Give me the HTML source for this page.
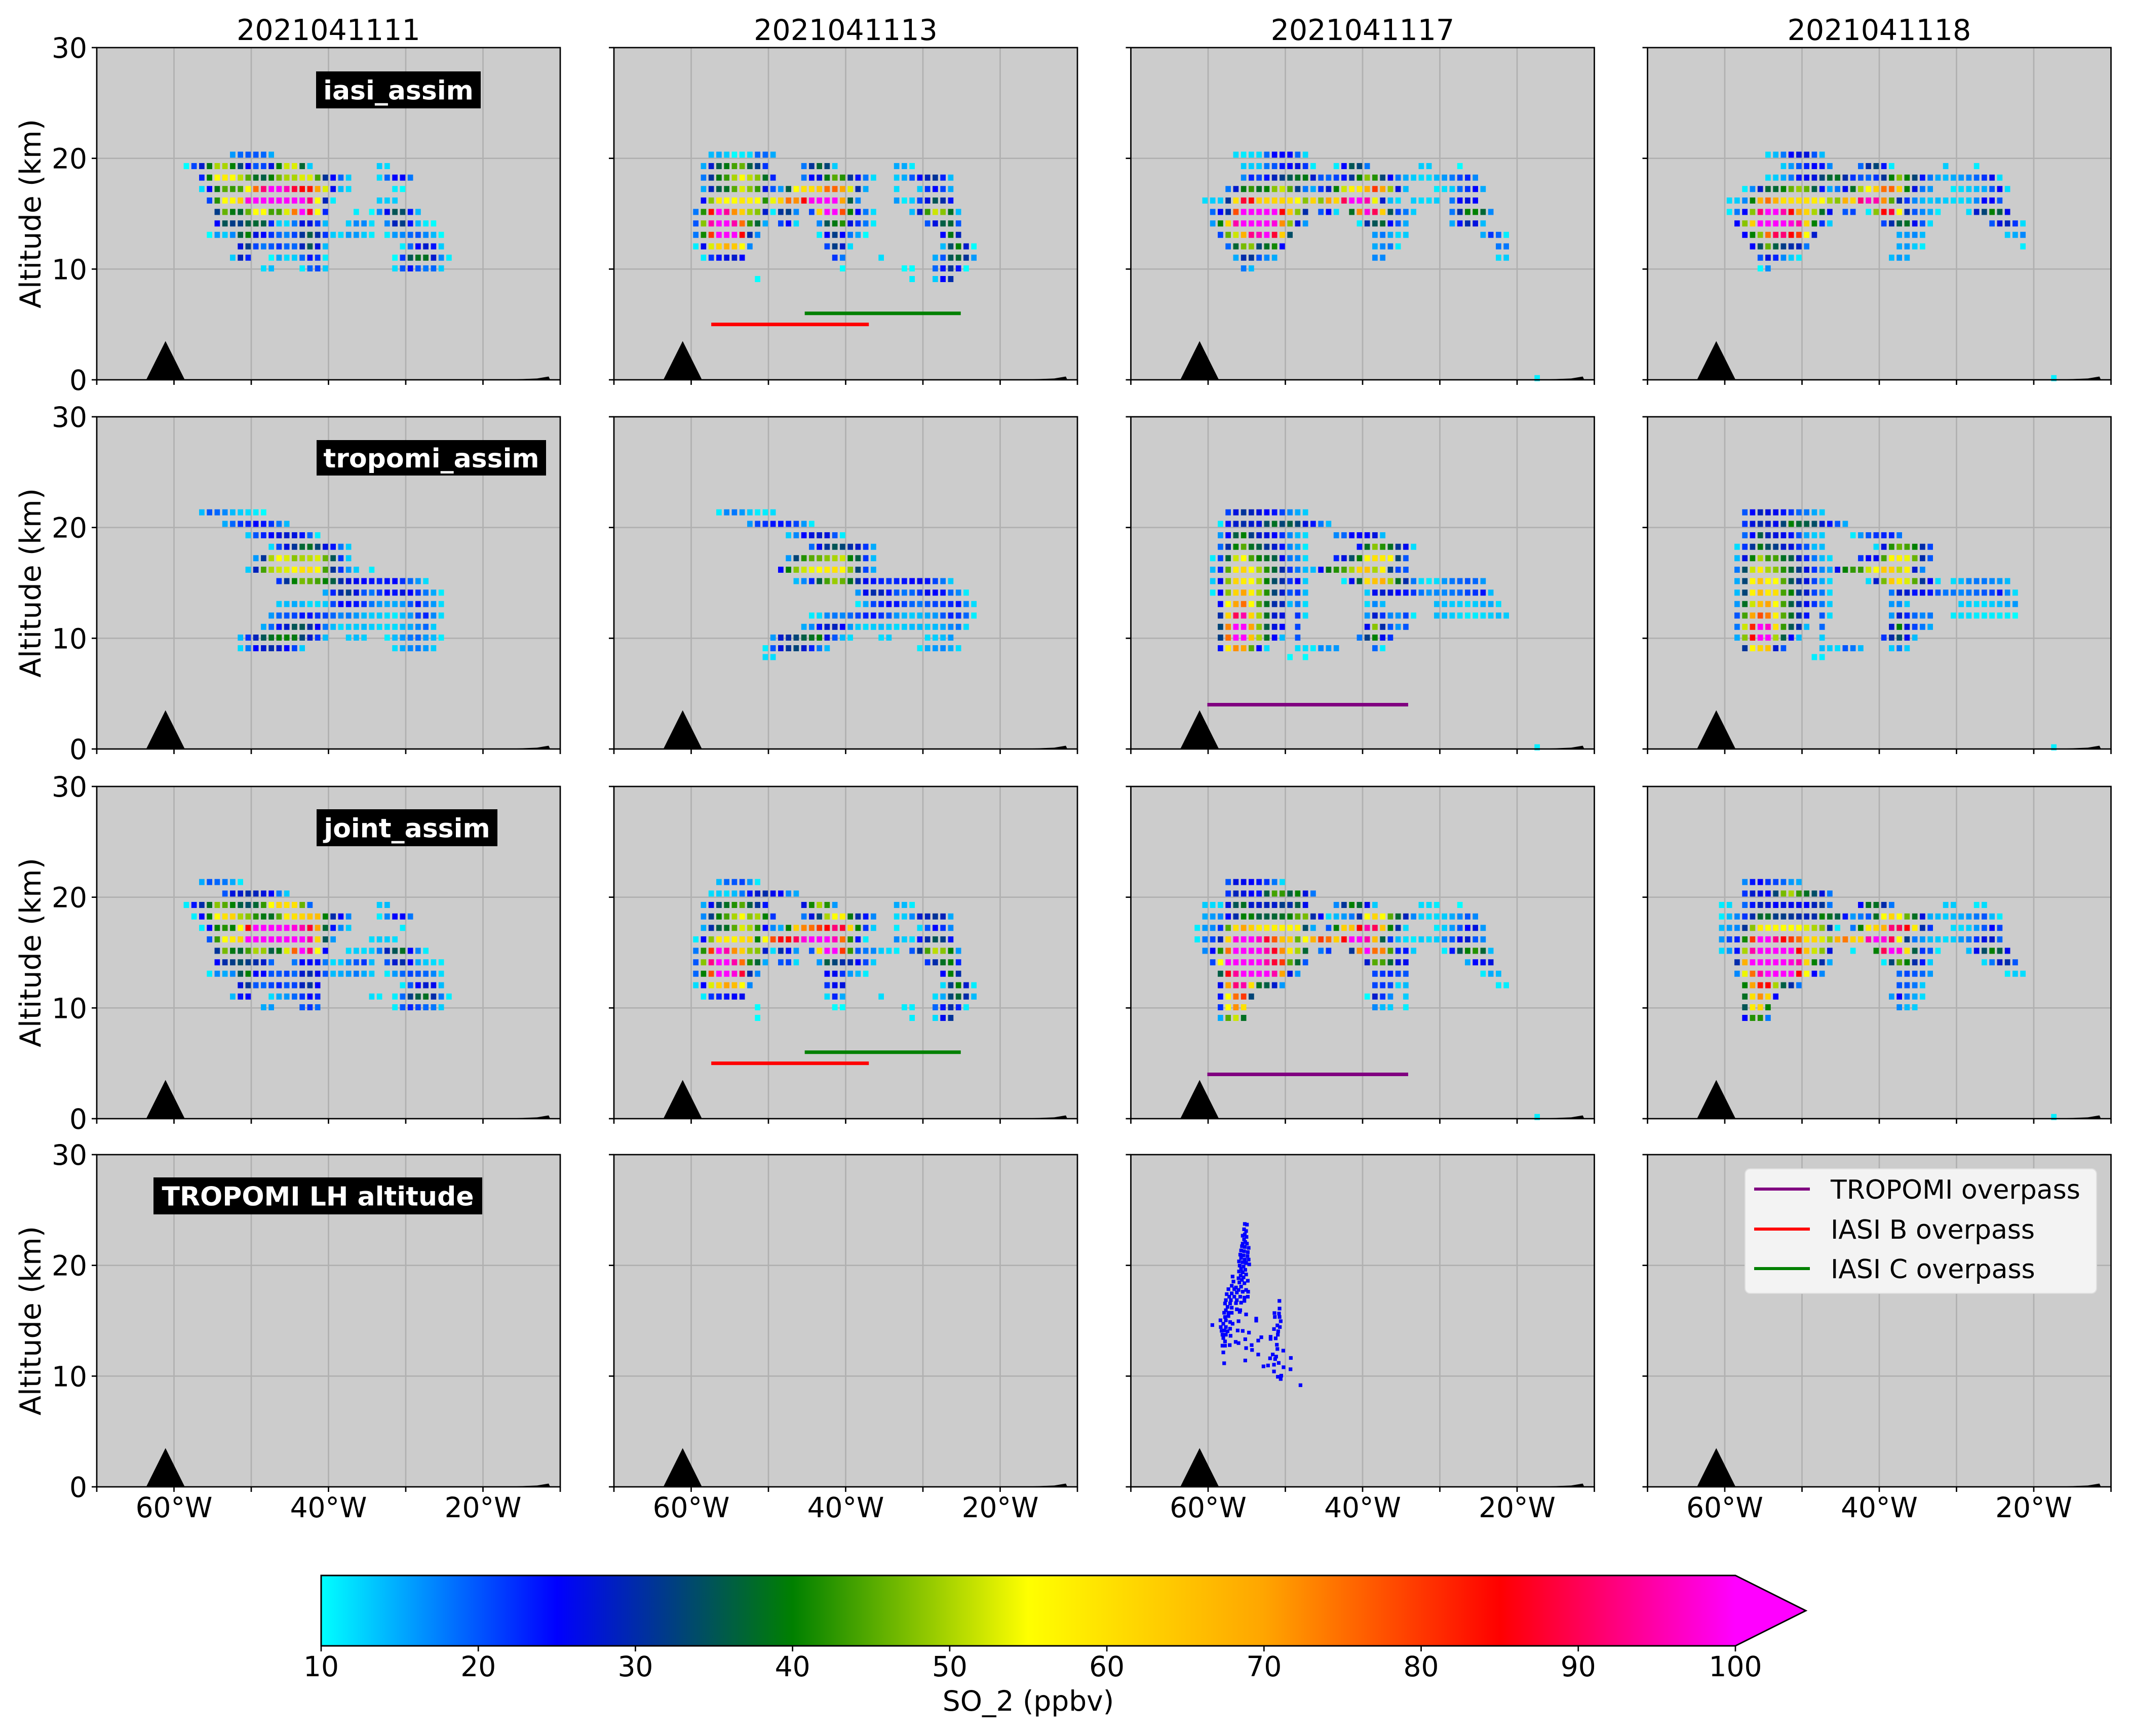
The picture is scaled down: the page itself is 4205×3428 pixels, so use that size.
<!DOCTYPE html>
<html><head><meta charset="utf-8"><title>SO2 cross sections</title>
<style>
html,body{margin:0;padding:0;background:#fff;}
svg{display:block;}
text{font-family:"DejaVu Sans","Liberation Sans",sans-serif;fill:#000;}
</style></head>
<body>
<svg id="fig" xmlns="http://www.w3.org/2000/svg" width="4205" height="3428" viewBox="0 0 4205 3428">
<defs>
<linearGradient id="cbgrad" x1="0" x2="1" y1="0" y2="0">
<stop offset="0" stop-color="#00ffff"/>
<stop offset="0.1667" stop-color="#0000ff"/>
<stop offset="0.3333" stop-color="#008000"/>
<stop offset="0.5" stop-color="#ffff00"/>
<stop offset="0.6667" stop-color="#ffa500"/>
<stop offset="0.8333" stop-color="#ff0000"/>
<stop offset="1" stop-color="#ff00ff"/>
</linearGradient>
</defs>
<rect x="0" y="0" width="4205" height="3428" fill="#ffffff"/>
<g id="panels"></g>
<g id="colorbar">
<rect x="634" y="3111" width="2792" height="139" fill="url(#cbgrad)"/>
<polygon points="3425,3111 3565,3180.5 3425,3250" fill="#ff00ff"/>
<polygon points="634,3111 3426,3111 3565,3180.5 3426,3250 634,3250" fill="none" stroke="#000" stroke-width="3"/>
<g id="cbticks"></g>
<text x="2030" y="3378" font-size="55" text-anchor="middle">SO_2 (ppbv)</text>
</g>
<g id="legend">
<rect x="3445" y="2308" width="694" height="246" rx="10" ry="10" fill="#f3f3f3" stroke="#dedede" stroke-width="2"/>
<line x1="3463" x2="3573" y1="2348" y2="2348" stroke="#800080" stroke-width="6"/>
<text x="3614" y="2367" font-size="52">TROPOMI overpass</text>
<line x1="3463" x2="3573" y1="2427" y2="2427" stroke="#ff0000" stroke-width="6"/>
<text x="3614" y="2446" font-size="52">IASI B overpass</text>
<line x1="3463" x2="3573" y1="2505" y2="2505" stroke="#008000" stroke-width="6"/>
<text x="3614" y="2524" font-size="52">IASI C overpass</text>
</g>
</svg>
<script>
// ---------- data ----------
const colTitles = ['2021041111','2021041113','2021041117','2021041118'];
const rowLabels = ['iasi_assim','tropomi_assim','joint_assim','TROPOMI LH altitude'];
const yTicks = [0,10,20,30];
const xTicks = [-70,-60,-50,-40,-30,-20,-10];
const xTickLabelVals = [-60,-40,-20];
const xTickLabelText = ['60°W','40°W','20°W'];
const cbTicks = [10,20,30,40,50,60,70,80,90,100];
const levels = [21.37,20.33,19.30,18.26,17.23,16.19,15.16,14.12,13.09,12.05,11.03,10.06,9.10,8.3,0.15];
const lonStart = -58.4;
const lonStep = 1.0;
const cells_r1c1 = [
[1,6,[16,19,20,20,19,15]],
[2,0,[10,21,28,39,50,50,40,33,25,20,21,27,40,52,53,37,13]],[2,25,[13,12]],
[3,2,[23,40,55,58,55,51,45,38,36,40,47,50,50,53,53,44,31,25,19,13]],[3,25,[12,19,25,25,18]],
[4,2,[12,25,39,45,43,44,55,75,92,100,100,96,88,85,83,70,53,26,14,12]],[4,27,[11,10]],
[5,3,[21,42,55,56,63,98,100,100,100,100,100,100,100,92,55,29,11]],[5,25,[13,13,13]],
[6,4,[32,46,39,37,46,55,55,44,44,53,74,100,88,55,23]],[6,22,[11]],[6,24,[10,17,26,35,34,24,14]],
[7,4,[25,35,32,32,36,37,36,23,13,12,18,27,27,22,14]],[7,21,[13,17,17,12]],[7,26,[17,29,32,24,14,11,10]],
[8,3,[10,16,13,17,36,40,27,25,22,19,17,21,31,36,30,22,13,12,16,16,13,11]],[8,26,[11,16,17,19,20,17,14,10]],
[9,7,[27,32,21,18,20,22,19,19,29,35,27,14]],[9,28,[11,19,25,28,24,13]],
[10,6,[13,29,23]],[10,11,[10,15,12,13,19,24,22,11]],[10,27,[10,22,35,38,38,28,17,11]],
[11,10,[12,14]],[11,15,[11,19,21,13]],[11,27,[12,20,24,20,18,19,13]]
];
const cells_r1c2 = [
[1,1,[14,15,13,10,11,12,19,19,15]],
[2,0,[15,28,36,39,44,46,36,32,22]],[2,13,[18,31,37,33,13]],[2,25,[15,15,11]],
[3,0,[18,31,39,43,50,55,51,48,38,23]],[3,13,[18,25,27,39,45,42,31,24,18,12]],[3,25,[13,15,20,25,29,31,23,14]],
[4,0,[15,29,36,38,45,53,48,43,27,20,16,36,55,60,60,64,75,76,70,53,30,15]],[4,25,[12]],[4,28,[13,22,25,21,15]],
[5,0,[25,48,58,55,55,59,57,55,42,54,63,75,72,85,99,100,100,100,70,36,17]],[5,25,[16,11,13,21,27,35,30,24]],
[6,-1,[18,42,84,100,94,72,63,50,48,28,11,31,32,17]],[6,14,[21,62,100,100,78,40,25,18,12]],[6,27,[14,28,43,52,48,38,14]],
[7,-1,[20,48,95,100,100,95,75,43,37,15]],[7,10,[21,25,12]],[7,15,[17,35,39,42,27,22,18,11]],[7,29,[20,27,36,37,20]],
[8,-1,[18,41,80,100,100,100,85,30,17]],[8,15,[11,25,32,25,18,15,10]],[8,31,[25,39,29]],
[9,-1,[11,26,53,62,68,64,55,17]],[9,16,[21,32,28,12]],[9,31,[14,34,40,28,10]],
[10,0,[11,22,24,27,28,25]],[10,17,[22,18]],[10,23,[12]],[10,30,[15,20,35,37,31,16]],
[11,18,[10]],[11,26,[10,10]],[11,30,[19,24,31,24,10]],
[12,7,[10]],[12,27,[11]],[12,30,[13,25,30]]
];
const cells_r1c3 = [
[1,2,[12,11,12,12,19,25,25,25,19,12]],
[2,3,[13,13,13,18,20,24,25,27,22,11]],[2,15,[11,25,35,33,18]],[2,26,[13,13]],[2,31,[10]],
[3,3,[17,23,21,24,29,32,35,38,39,28,20,19,21,24,31,40,48,42,33,25,18,15,13,12,12,14,16,18,21,23,17]],
[4,1,[18,28,39,43,38,40,48,52,45,32,18,15,22,28,40,52,57,58,68,80,70,49,27,14]],[4,28,[11,12,13,19,22,25,15]],
[5,-2,[12,13,13,31,60,88,84,63,62,62,62,60,55,48,62,48,70,62,90,100,100,95,54,28,14,12]],[5,25,[13,12,12,13]],[5,30,[18,25,27,25]],
[6,-1,[19,25,30,78,100,100,100,100,100,85,65,48,30]],[6,13,[20,25,12]],[6,17,[38,72,98,90,63,35,21,18,13]],[6,30,[18,30,40,40,37,17]],
[7,-1,[16,40,62,95,100,100,100,100,98,72,48,27,16]],[7,18,[11,30,35,37,25,20,15]],[7,30,[15,24,30,27,14]],
[8,0,[21,46,52,68,93,96,100,88,63,34]],[8,20,[16,18,15,12,13]],[8,34,[15,22,19,11]],
[9,1,[19,37,47,48,33,38,41,25]],[9,20,[15,17,18,11]],[9,36,[18,18]],
[10,2,[15,30,31,20,17,15]],[10,20,[17,17]],[10,36,[12,13]],
[11,3,[18,14]],
[14,41,[11]]
];
const cells_r1c4 = [
[1,4,[12,14,18,25,27,27,20,14]],
[2,6,[13,16,20,23,25,24,17]],[2,16,[19,30,33,24,11]],[2,27,[13]],[2,31,[11]],
[3,4,[12,13,15,18,24,26,27,33,37,38,30,22,20,19,22,31,40,48,40,33,24,18,15,14,15,16,17,19,22,26,12]],
[4,1,[11,17,28,37,37,40,46,49,46,36,24,15,18,26,38,50,55,63,75,76,63,40,27,18,16]],[4,28,[11,12,13,14,15,20,25,12]],
[5,-1,[12,13,17,40,68,75,68,60,60,60,60,58,55,50,48,68,62,92,97,95,72,45,30,22,17,14]],[5,25,[13,14,13,12,12,13,17,25,25,20]],
[6,-1,[11,18,25,48,92,100,100,95,85,70,62,50,38,26]],[6,14,[20,21]],[6,17,[11,48,85,88,55,30,20,17,15,11]],[6,30,[12,28,33,40,36,26]],
[7,0,[25,48,63,100,100,100,100,98,95,62,40,22,13]],[7,19,[21,30,36,38,26,20,12]],[7,33,[20,27,29,22,12]],
[8,1,[25,40,48,75,90,92,85,80,55,28]],[8,21,[15,16,17,14]],[8,35,[13,15,17]],
[9,2,[25,34,46,36,32,30,29,18]],[9,21,[15,16,13,11]],[9,37,[11]],
[10,3,[20,27,23,17,13,11]],[10,20,[14,16,15]],
[11,3,[10,17]],
[14,41,[11]]
];
const cells_r2c1 = [
[0,2,[14,20,19,17,14,13,12,11,10]],
[1,5,[15,19,22,23,25,24,22,18,14]],
[2,8,[13,20,23,25,27,28,27,24,19,11]],
[3,11,[12,21,27,31,37,38,33,27,24,18,13]],
[4,9,[16,31,50,55,53,48,50,51,53,46,35,22,13]],
[5,8,[13,29,44,50,52,53,56,60,60,56,44,31,22,16,13]],[5,24,[11]],
[6,12,[22,31,40,47,46,44,40,36,30,27,26,25,24,23,24,25,22,19,16,12]],
[7,18,[15,23,30,32,27,20,18,22,25,24,27,25,22,18,15,11]],
[8,12,[13,14,15,14,12,12,13,21,25,25,24,22,18,16,15,15,16,20,24,19,16,12]],
[9,11,[16,19,20,21,24,24,22,21,19,17,18,16,14,13,13,12,11,14,16,21,23,17,12]],
[10,10,[15,19,24,28,35,35,30,25,18,14,12,13,13,14,13,12,12,12,14,15,17,19,13]],
[11,7,[14,22,29,35,38,40,40,39,33,28,22,14]],[11,21,[13,14,13]],[11,26,[11,14,16,18,19,16,14,11]],
[12,7,[12,18,25,28,30,28,25,21,13]],[12,27,[12,15,17,18,16,13]]
];
const cells_r2c2 = [
[0,2,[11,17,18,16,13,11,11,12]],
[1,6,[16,21,22,24,24,23,21,16,11]],
[2,11,[13,17,25,27,28,27,20,11]],
[3,14,[19,26,31,35,33,30,28,22,15]],
[4,11,[16,33,42,45,46,48,50,52,40,36,22,14]],
[5,10,[25,40,48,52,54,55,58,60,56,48,33,21,15]],
[6,12,[14,17,23,36,44,49,46,38,30,26,24,23,22,23,24,25,26,24,21,18,13]],
[7,20,[16,26,30,29,24,20,18,19,22,26,25,24,19,17,11]],
[8,20,[11,15,21,23,25,24,21,19,18,20,21,22,23,24,17,12]],
[9,14,[11,12,17,18,17,19,21,23,24,22,20,16,14,13,14,15,16,20,23,22,19,11]],
[10,13,[15,17,24,28,29,25,16,13,12,13,14,13,12,13,14,14,13,14,15,17,18,12]],
[11,9,[16,28,30,33,36,38,40,27,20,14,12]],[11,23,[12,13]],[11,29,[12,13,14,16]],
[12,8,[11,20,27,31,33,28,23,18,14]],[12,28,[11,15,16,17,15,12]],
[13,8,[12,12]]
];
const cells_r2c3 = [
[0,1,[21,27,31,29,27,25,24,21,17,15,13]],
[1,0,[11,24,28,30,28,27,34,38,33,36,33,27,24,18,14]],
[2,0,[16,25,36,40,32,28,27,25,22,17,14,12]],[2,15,[17,19,25,25,25,27,14]],
[3,0,[19,30,40,45,38,36,31,28,24,17,15,11]],[3,18,[24,38,48,42,38,31,26,12]],
[4,-1,[11,21,37,52,55,44,40,38,36,26,18,17,12]],[4,15,[23,27,34,40,56,60,58,56,33,20]],
[5,-1,[14,23,45,58,62,55,50,42,37,30,22,18,14,14,25,39,42,44,50,62,65,50,57,32,21,20]],
[6,-1,[13,26,48,62,58,55,50,40,34,30,22,25,13]],[6,16,[11,26,37,60,65,68,50,38,30,18,12,11,12,16,18,19,20,19,16]],
[7,-1,[11,25,48,62,70,57,50,42,33,28,20,22,14]],[7,19,[13,26,28,27,25,24,22,18,16,17,17,18,19,21,22,24,14]],
[8,0,[25,55,70,75,55,45,38,30,29,14,18,12]],[8,19,[12,17,14]],[8,28,[14,14,13,13,12,13,15,15,12]],
[9,0,[30,62,90,95,62,50,38,28,27]],[9,10,[22,12]],[9,19,[16,28,22,17,16,21,11]],[9,28,[14,14,13,12,11,11,12,13,14,13]],
[10,0,[33,73,100,100,70,48,36,27,25]],[10,10,[21]],[10,19,[26,48,30,20,16,20]],
[11,0,[32,75,100,100,65,50,38,25,14]],[11,10,[20]],[11,18,[18,32,40,26,22]],
[12,0,[24,58,72,70,45,25,12]],[12,10,[12,12,11,17,16,16]],[12,20,[19,11]],
[13,9,[10]],[13,11,[10]],
[14,41,[11]]
];
const cells_r2c4 = [
[0,1,[20,25,29,27,26,24,22,19,18,15,13]],
[1,1,[22,27,30,28,26,33,40,37,36,34,28,24,20,15]],
[2,1,[19,25,36,29,27,26,24,20,15,13,13]],[2,15,[11,16,20,22,23,23,18]],
[3,0,[12,22,31,39,34,32,28,27,22,20,14,14]],[3,18,[12,27,42,46,44,40,30,21]],
[4,0,[14,27,40,50,43,44,38,36,28,23,18,14,12]],[4,16,[22,25,26,44,56,57,54,46,30,20]],
[5,0,[18,34,52,58,50,48,42,37,32,27,22,17,15,26,40,43,43,52,55,64,63,51,57,28,17]],
[6,0,[15,33,56,65,56,55,45,35,30,27,21,15,12]],[6,17,[12,28,47,64,58,53,45,31,25,12]],[6,28,[12,14,17,18,18,17,16,14]],
[7,0,[14,33,57,66,58,60,44,40,32,28,21,18,12]],[7,20,[18,28,28,24,26,24,20,18,18,17,18,19,20,21,24,17,12]],
[8,0,[16,38,52,66,70,55,44,36,30,26,22,18,13]],[8,20,[16,17,13]],[8,29,[13,13,12,12,13,14,15,16]],
[9,0,[20,44,70,78,74,57,45,38,30,24]],[9,11,[20,12]],[9,20,[16,28,23,19,17,18]],[9,28,[11,12,12,11,11,11,11,11,10]],
[10,0,[18,52,82,100,97,60,43,35,30,14]],[10,11,[19]],[10,20,[28,40,27,21,18,15]],
[11,0,[15,48,85,100,100,50,36,25,14]],[11,11,[13]],[11,19,[22,30,34,26,14]],
[12,1,[31,56,62,65,28,20]],[12,11,[14,13,12,20,18,14]],[12,20,[13,18,13]],
[13,10,[11,11]],
[14,41,[11]]
];
const cells_r3c1 = [
[0,2,[15,20,19,18,15,11]],
[1,5,[20,27,28,30,29,27,25,18,13]],
[2,0,[11,24,30,38,48,45,40,36,34,37,43,55,62,60,60,46,19]],[2,25,[13,14]],
[3,1,[11,25,40,55,60,62,50,48,42,39,38,45,58,60,62,65,66,40,30,25,17]],[3,25,[11,17,25,25,18]],
[4,2,[11,25,40,42,40,55,85,100,100,100,100,100,98,95,88,70,37,24,17,13]],[4,28,[11]],
[5,3,[20,43,55,58,62,100,100,100,100,100,100,100,100,95,62,35,16]],[5,24,[12,13,13,12]],
[6,4,[31,47,39,37,44,50,49,36,39,53,76,100,92,55,25]],[6,21,[12,13,12,13,18,29,35,38,25,17,11]],
[7,4,[25,30,32,34,32,30,28,19]],[7,14,[18,25,25,24,18,12,13,17,20,22,14]],[7,26,[20,28,30,25,15,13,12,11]],
[8,3,[11,17,15,17,35,40,25,25,20,20,21,19,28,30,26,20,14,15,16,18,15,13]],[8,26,[11,16,19,21,20,19,17,12]],
[9,7,[27,31,20,19,21,23,20,21,29,31,25]],[9,28,[11,20,25,28,26,14]],
[10,6,[14,24,25]],[10,11,[12,15,16,19,22,25,23]],[10,24,[12,11]],[10,27,[11,19,32,36,38,30,18,11]],
[11,10,[15,16]],[11,15,[20,22,19]],[11,27,[11,20,23,21,19,18,13]]
];
const cells_r3c2 = [
[0,2,[14,19,20,21,16,11]],
[1,1,[12,13,12,14,18,24,28,30,26,25,17,15]],
[2,0,[15,26,34,38,42,45,36,31,24]],[2,13,[27,41,50,42,16]],[2,25,[15,14,11]],
[3,0,[17,32,40,44,50,55,48,50,40,22]],[3,13,[18,27,33,50,55,57,39,30,24,17]],[3,25,[12,13,17,28,29,31,29,15]],
[4,0,[15,30,36,38,45,53,50,42,25,17,15,40,63,73,75,80,85,92,88,62,40,22,13]],[4,25,[11]],[4,28,[12,20,25,22,17]],
[5,-1,[11,25,48,58,58,57,60,62,40,55,78,86,84,90,98,100,100,100,96,75,42,24,11]],[5,25,[17,13,12,24,30,35,32,24]],
[6,-1,[18,42,80,100,95,72,63,49,48,28,12,30,24,16]],[6,14,[20,60,100,100,80,43,20,18,17,13,12,11]],[6,27,[20,31,44,51,48,40,16]],
[7,-1,[20,48,93,100,100,95,75,42,37,15]],[7,10,[20,21,12]],[7,15,[16,36,33,30,30,25,21,13]],[7,29,[22,30,38,40,23]],
[8,-1,[19,40,78,100,100,98,88,30,17]],[8,16,[25,26,22,16,14,11]],[8,31,[25,40,30]],
[9,-1,[12,25,53,62,70,66,55,17]],[9,16,[22,26,27]],[9,31,[12,32,40,28,11]],
[10,0,[11,22,23,24,25,26]],[10,16,[12,23,15]],[10,23,[12]],[10,30,[12,15,33,37,30,14]],
[11,7,[10]],[11,17,[10,10]],[11,26,[11,11]],[11,30,[19,24,30,23,11]],
[12,7,[10]],[12,27,[11]],[12,30,[12,26,31]]
];
const cells_r3c3 = [
[0,1,[20,27,26,25,24,22,18,12]],
[1,1,[22,29,27,25,24,36,44,43,36,40,27,18]],
[2,-2,[13,12,12,27,35,38,28,28,29,28,32,30,36,26]],[2,15,[17,31,40,37,26,13]],[2,26,[12,12,11]],[2,31,[10]],
[3,-2,[15,16,17,25,30,40,40,36,36,37,38,40,45,47,30,25,12,14,16,18,30,55,62,55,45,37,29,17,13,12,12,13,15,17,20,17]],
[4,-3,[11,16,17,22,45,60,70,63,58,58,57,57,56,57,34,15]],[4,14,[20,40,63,65,85,95,90,65,40,30,12]],[4,28,[11,13,16,20,25,27,16]],
[5,-3,[11,18,21,29,62,98,100,100,97,88,77,65,63,46,55,68,80,75,63,85,100,100,95,66,36,22,14,12,11,13,12,13,17,20,26,28,20,17]],
[6,-2,[17,25,42,75,100,100,100,100,95,87,72,58,50,37]],[6,13,[18,22]],[6,17,[31,72,100,75,73,44,23,24,13]],[6,29,[11,24,35,40,42,37,14]],
[7,-1,[21,55,100,100,100,100,100,95,88,80,45,37,20]],[7,19,[28,45,44,37,27,26]],[7,32,[15,25,26,27]],
[8,0,[36,86,94,100,100,100,100,95,70,27,16]],[8,20,[21,22,23,21,20]],[8,34,[11,15,14]],
[9,0,[26,70,92,95,60,38,36,28,16]],[9,20,[21,22,21,12,14]],[9,36,[11,11]],
[10,0,[24,55,75,80,33]],[10,19,[10,28,22,17]],[10,24,[13]],
[11,0,[22,55,72,60]],[11,20,[17,14,13]],[11,24,[11]],
[12,0,[15,45,52,38]],
[14,41,[11]]
];
const cells_r3c4 = [
[0,1,[17,24,25,22,21,19,16,15]],
[1,1,[22,28,27,25,33,47,50,43,38,34,27,18]],
[2,-2,[11,12]],[2,1,[19,24,29,27,25,27,26,26,25,29,31,18]],[2,16,[25,38,38,30,18]],[2,27,[13,13]],[2,31,[11,12]],
[3,-2,[11,14,17,22,30,37,38,32,32,31,30,29,30,40,38,36,24,16,18,20,38,55,62,55,46,38,27,15,14,13,14,15,16,18,20,14,11]],
[4,-2,[14,16,17,31,48,58,55,56,55,55,55,53,50,48,30,11]],[4,15,[18,40,58,62,68,92,90,85,58,30,22]],[4,28,[12,12,13,16,20,25,21]],
[5,-2,[16,21,23,41,80,100,100,93,85,80,75,60,62,53,49,68,74,62,62,95,100,98,90,55,32,18,16,14,13,12,13,16,18,22,27,28,19]],
[6,-2,[12,16,24,50,95,100,100,100,100,100,85,65,52,48,27]],[6,15,[11]],[6,18,[40,90,100,98,60,36,22,20,11]],[6,30,[14,26,34,40,36,26]],
[7,0,[30,68,100,100,100,100,100,98,95,62,40,30,15]],[7,19,[11,33,45,40,30,24,13]],[7,32,[12,18,28,30,20]],
[8,0,[17,54,75,95,100,100,100,100,85,55,25,17]],[8,21,[19,21,20,19,16]],[8,35,[11,13,12]],
[9,1,[40,70,83,85,50,36,30,18]],[9,21,[20,20,18,13]],
[10,1,[38,60,72,62,25]],[10,20,[16,25,18,15,12]],
[11,1,[35,58,62,40]],[11,21,[17,14,13]],
[12,1,[25,42,42,18]],
[14,41,[11]]
];
const cellsByPanel = [
 [cells_r1c1,cells_r1c2,cells_r1c3,cells_r1c4],
 [cells_r2c1,cells_r2c2,cells_r2c3,cells_r2c4],
 [cells_r3c1,cells_r3c2,cells_r3c3,cells_r3c4],
 [[],[],[],[]]
];
// overpass lines (rows/cols 1-based)
const overpassRows = [1,1,2,3,3,3];
const overpassCols = [2,2,3,2,2,3];
const overpassLon0 = [-57.4,-45.3,-60.1,-57.4,-45.3,-60.1];
const overpassLon1 = [-37.0,-25.1,-34.1,-37.0,-25.1,-34.1];
const overpassAlt  = [5,6,4,5,6,4];
const overpassKind = ['iasi-b','iasi-c','tropomi','iasi-b','iasi-c','tropomi'];
const lhLon = [-55.25,-54.97,-55.34,-55.08,-55.25,-55.52,-55.03,-55.34,-55.19,-55.52,-54.97,-55.62,-55.25,-54.75,-55.73,-55.34,-54.86,-55.84,-55.41,-54.90,-55.73,-55.25,-54.75,-56.00,-55.52,-55.08,-54.68,-55.91,-55.41,-55.73,-55.19,-56.00,-55.52,-55.08,-55.78,-55.41,-56.83,-56.06,-55.62,-54.86,-56.72,-55.95,-55.30,-56.94,-56.39,-55.73,-57.37,-56.61,-56.06,-55.08,-57.59,-56.94,-56.28,-55.52,-54.82,-54.86,-57.26,-56.61,-55.84,-55.30,-57.70,-57.05,-56.28,-55.30,-57.81,-57.15,-56.39,-55.73,-57.48,-56.94,-57.70,-56.28,-55.84,-57.92,-57.37,-56.94,-55.91,-55.08,-57.81,-57.37,-57.70,-58.40,-57.15,-56.06,-56.83,-58.03,-58.36,-57.70,-57.15,-57.92,-58.25,-57.48,-58.14,-57.70,-58.03,-57.81,-58.14,-57.81,-58.03,-57.92,-59.45,-56.17,-55.52,-54.71,-55.19,-57.09,-56.43,-56.06,-57.20,-55.08,-54.36,-54.31,-53.77,-53.77,-53.51,-53.11,-53.51,-55.19,-50.77,-50.75,-51.41,-50.82,-51.36,-50.75,-50.60,-51.03,-50.71,-51.47,-50.93,-50.97,-51.25,-51.91,-51.91,-51.10,-51.03,-50.27,-51.63,-51.19,-51.98,-51.32,-49.29,-50.86,-51.47,-52.24,-52.83,-50.23,-49.33,-51.47,-50.53,-50.97,-50.60,-48.04];
const lhAlt = [23.74,23.68,23.26,23.10,22.80,22.68,22.57,22.34,22.11,21.96,21.96,21.73,21.66,21.58,21.35,21.28,21.20,20.97,20.90,20.85,20.67,20.52,20.52,20.36,20.29,20.21,20.09,19.98,19.91,19.68,19.60,19.45,19.37,19.18,19.07,18.92,18.99,18.84,18.69,18.61,18.54,18.46,18.39,18.16,18.00,18.08,17.85,17.85,17.78,17.78,17.40,17.47,17.55,17.62,17.62,17.17,17.17,17.17,17.17,17.09,16.86,16.86,16.86,16.79,16.56,16.56,16.59,16.63,16.25,16.18,15.95,16.03,15.95,15.72,15.72,15.72,15.80,15.57,15.34,15.42,15.04,15.04,14.88,14.96,14.73,14.73,14.43,14.43,14.28,14.12,14.09,14.05,13.74,13.74,13.44,13.13,12.75,12.75,12.14,11.16,14.61,14.12,14.08,13.93,13.33,13.64,13.09,12.98,12.80,12.53,12.80,12.36,15.19,15.01,11.95,13.51,13.21,11.41,16.79,16.10,15.69,15.65,15.34,15.34,14.96,14.58,14.43,14.25,14.05,13.74,13.41,13.55,13.36,12.83,12.45,12.30,11.95,11.76,11.61,11.54,11.64,11.19,11.03,10.96,10.88,10.80,10.62,10.42,10.04,9.94,9.74,9.18];
const volcanoLon = [-63.6,-61.1,-58.6];
const volcanoAlt = [0,3.5,0];
const terrainLon = [-20.2,-16,-13,-11.5,-11.3];
const terrainAlt = [0,0.04,0.12,0.3,0];

// ---------- layout ----------
const NS = 'http://www.w3.org/2000/svg';
const colLeft = [191,1212,2232.5,3252.5];
const rowTop = [94,823,1553,2280];
const PW = 915, PH = 656;
const lonMin = -70, lonMax = -10, altMax = 30;
const labelBoxes = [[624,141,325,73],[625,869,453,70],[625,1598,357,73],[303,2325,649,73]];
function xs(c, lon){ return colLeft[c] + (lon - lonMin) / (lonMax - lonMin) * PW; }
function ys(r, alt){ return rowTop[r] + PH - alt / altMax * PH; }

const cmapVals = [10,25,40,55,70,85,100];
const cmapRGB = [[0,255,255],[0,0,255],[0,128,0],[255,255,0],[255,165,0],[255,0,0],[255,0,255]];
function cmap(v){
  if (v <= cmapVals[0]) return 'rgb(' + cmapRGB[0].join(',') + ')';
  for (let i = 1; i < cmapVals.length; i++){
    if (v <= cmapVals[i]){
      const t = (v - cmapVals[i-1]) / (cmapVals[i] - cmapVals[i-1]);
      const a = cmapRGB[i-1], b = cmapRGB[i];
      return 'rgb(' + [0,1,2].map(j => Math.round(a[j] + (b[j]-a[j])*t)).join(',') + ')';
    }
  }
  return 'rgb(255,0,255)';
}
function mk(tag, attrs, parent){
  const e = document.createElementNS(NS, tag);
  for (const k in attrs) e.setAttribute(k, attrs[k]);
  parent.appendChild(e);
  return e;
}

const root = document.getElementById('panels');
const cellW = 10.7, cellH = 12;

for (let r = 0; r < 4; r++){
  for (let c = 0; c < 4; c++){
    const g = mk('g', {}, root);
    
    
    const L = colLeft[c], T = rowTop[r];
    const bg = mk('rect', {x:L, y:T, width:PW, height:PH, fill:'#cccccc'}, g);
    
    
    for (let lon = -60; lon <= -20; lon += 10){
      const gl = mk('line', {x1:xs(c,lon), x2:xs(c,lon), y1:T, y2:T+PH, stroke:'#b0b0b0', 'stroke-width':2.7}, g);
      
      
    }
    for (const a of [10,20]){
      const gl = mk('line', {x1:L, x2:L+PW, y1:ys(r,a), y2:ys(r,a), stroke:'#b0b0b0', 'stroke-width':2.7}, g);
      
      
    }
    const data = cellsByPanel[r][c];
    for (const row of data){
      const alt = levels[row[0]];
      const vals = row[2];
      for (let i = 0; i < vals.length; i++){
        const lon = lonStart + (row[1] + i) * lonStep;
        const cx = xs(c, lon), cy = ys(r, alt);
        const cell = mk('rect', {x:cx - cellW/2, y:cy - cellH/2, width:cellW, height:cellH, fill:cmap(vals[i])}, g);
        
        
      }
    }
    for (let i = 0; i < overpassRows.length; i++){
      if (overpassRows[i] - 1 === r && overpassCols[i] - 1 === c){
        const col = overpassKind[i] === 'tropomi' ? '#800080' : (overpassKind[i] === 'iasi-b' ? '#ff0000' : '#008000');
        const ln = mk('line', {x1:xs(c,overpassLon0[i]), x2:xs(c,overpassLon1[i]), y1:ys(r,overpassAlt[i]), y2:ys(r,overpassAlt[i]), stroke:col, 'stroke-width':7}, g);
        
        
      }
    }
    if (r === 3 && c === 2){
      for (let i = 0; i < lhLon.length; i++){
        const d = mk('rect', {x:xs(c,lhLon[i]) - 3.6, y:ys(r,lhAlt[i]) - 3.6, width:7.2, height:7.2, fill:'#0000ff'}, g);
        
        
      }
    }
    const vpts = volcanoLon.map((lo,i) => xs(c,lo) + ',' + ys(r,volcanoAlt[i])).join(' ');
    const tri = mk('polygon', {points:vpts, fill:'#000'}, g);
    
    
    const tpts = terrainLon.map((lo,i) => xs(c,lo) + ',' + ys(r,terrainAlt[i])).join(' ');
    const ter = mk('polygon', {points:tpts, fill:'#000'}, g);
    
    
    const fr = mk('rect', {x:L, y:T, width:PW, height:PH, fill:'none', stroke:'#000', 'stroke-width':2.7}, g);
    
    
    for (const lon of xTicks){
      const tk = mk('line', {x1:xs(c,lon), x2:xs(c,lon), y1:T+PH, y2:T+PH+10, stroke:'#000', 'stroke-width':2.7}, g);
      
      
    }
    for (const a of yTicks){
      const tk = mk('line', {x1:L-10, x2:L, y1:ys(r,a), y2:ys(r,a), stroke:'#000', 'stroke-width':2.7}, g);
      
      
      if (c === 0){
        const tl = mk('text', {x:L-19, y:ys(r,a)+20, 'font-size':55, 'text-anchor':'end'}, g);
        tl.textContent = String(a);
        
        
      }
    }
    if (r === 3){
      for (let i = 0; i < xTickLabelVals.length; i++){
        const tl = mk('text', {x:xs(c,xTickLabelVals[i]), y:2996, 'font-size':55, 'text-anchor':'middle'}, g);
        tl.textContent = xTickLabelText[i];
        
        
      }
    }
    if (r === 0){
      const tt = mk('text', {x:L + PW/2, y:79, 'font-size':57, 'text-anchor':'middle'}, g);
      tt.textContent = colTitles[c];
      
      
    }
    if (c === 0){
      const yc = T + PH/2;
      const yl = mk('text', {x:80, y:yc, 'font-size':57, 'text-anchor':'middle', transform:'rotate(-90 80 ' + yc + ')'}, g);
      yl.textContent = 'Altitude (km)';
      
      
      const b = labelBoxes[r];
      const box = mk('rect', {x:b[0], y:b[1], width:b[2], height:b[3], fill:'#000'}, g);
      
      
      const lt = mk('text', {x:b[0] + b[2]/2, y:b[1] + b[3]/2 + 19, 'font-size':52, 'font-weight':'bold', 'text-anchor':'middle', fill:'#fff', style:'fill:#fff'}, g);
      lt.textContent = rowLabels[r];
      
      
    }
  }
}

const cbg = document.getElementById('cbticks');
const cbX0 = 634, cbX1 = 3426;
for (const v of cbTicks){
  const x = cbX0 + (v - 10) / 90 * (cbX1 - cbX0);
  const tk = mk('line', {x1:x, x2:x, y1:3250, y2:3261, stroke:'#000', 'stroke-width':2.7}, cbg);
  
  
  const tl = mk('text', {x:x, y:3310, 'font-size':55, 'text-anchor':'middle'}, cbg);
  tl.textContent = String(v);
  
  
}
</script>
</body></html>
